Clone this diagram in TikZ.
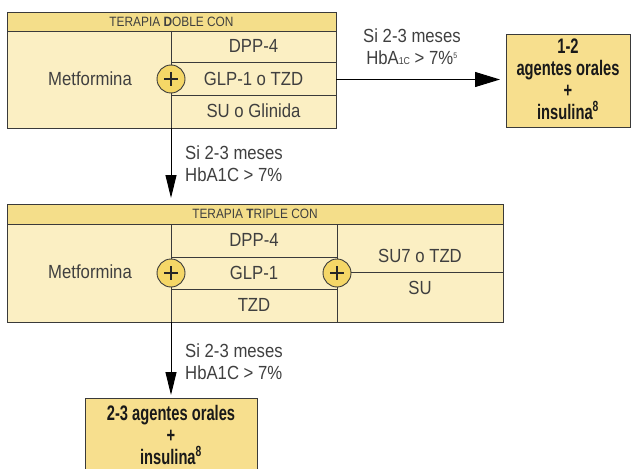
\documentclass[tikz,border=0pt]{standalone}
\usepackage{fontspec}
\setmainfont{Liberation Sans}[FakeStretch=0.88]
\newfontfamily\condbold{Liberation Sans}[FakeStretch=0.7]
\usetikzlibrary{arrows.meta,calc}
\definecolor{hdr}{HTML}{F4DE8A}
\definecolor{bodyc}{HTML}{FBEFC3}
\definecolor{boxy}{HTML}{F7DF8E}
\definecolor{circc}{HTML}{F5D767}
\definecolor{ln}{HTML}{3A3A3A}
\definecolor{txt}{HTML}{3F3F3F}
\begin{document}
\begin{tikzpicture}[x=1pt,y=-1pt,
  hdrbox/.style={draw=ln,fill=hdr,line width=0.9pt,inner sep=0,outer sep=0,anchor=north west},
  bodybox/.style={draw=ln,fill=bodyc,line width=0.9pt,inner sep=0,outer sep=0,anchor=north west},
  resbox/.style={draw=ln,fill=boxy,line width=0.9pt,inner sep=0,outer sep=0,anchor=north west},
  lbl/.style={font=\fontsize{19}{22}\selectfont,text=txt,inner sep=0},
  hdrtxt/.style={font=\fontsize{13.5}{15}\selectfont,text=txt,inner sep=0},
  plus/.style={circle,draw=ln,fill=circc,line width=0.9pt,minimum size=28pt,inner sep=0},
  plusbar/.style={draw=black!85,line width=2pt},
  sep/.style={draw=ln,line width=0.9pt},
  arr/.style={draw=black,line width=1pt,-{Triangle[length=23pt,width=11pt]}},
  harr/.style={draw=black,line width=1pt,-{Triangle[length=25pt,width=15pt]}},
  restxt/.style={font=\condbold\bfseries\fontsize{21}{22}\selectfont,text=black!90,align=center,inner sep=0}
]
\useasboundingbox (0,0) rectangle (631,468);

% ---------- Terapia doble ----------
\node[hdrbox,minimum width=329pt,minimum height=19pt] (h1) at (7,12) {};
\node[bodybox,minimum width=329pt,minimum height=97pt] (b1) at (7,31) {};
\node[hdrtxt] (h1t) at (h1.center) {TERAPIA {\bfseries D}OBLE CON};
\draw[sep] (171,31) -- (171,128);
\draw[sep] (171,62) -- (336,62);
\draw[sep] (171,95) -- (336,95);
\node[lbl] (m1) at (90,79) {Metformina};
\node[lbl] (d1) at (253.5,46) {DPP-4};
\node[lbl] (g1) at (253.5,79) {GLP-1 o TZD};
\node[lbl] (s1) at (253.5,111) {SU o Glinida};
\node[plus] (p1) at (171,79) {};
\draw[plusbar] ($(p1)+(-7,0)$) -- ($(p1)+(7,0)$);
\draw[plusbar] ($(p1)+(0,-7)$) -- ($(p1)+(0,7)$);

% ---------- Resultado 1 ----------
\node[resbox,minimum width=124pt,minimum height=93pt] (r1) at (506,34) {};
\node[restxt] (r1t) at (568,79) {1-2\\agentes orales\\+\\insulina\textsuperscript{8}};

\draw[harr,shorten >=6pt] (b1.east) -- (r1.west |- b1.east);
\node[lbl] (la1) at (412,36) {Si 2-3 meses};
\node[lbl] (lb1) at (412,58) {HbA{\fontsize{10}{10}\selectfont 1C} > 7\%\textsuperscript{\fontsize{8}{8}\selectfont 5}};

% ---------- Terapia triple ----------
\node[hdrbox,minimum width=496pt,minimum height=20pt] (h2) at (7,204) {};
\node[bodybox,minimum width=496pt,minimum height=98pt] (b2) at (7,224) {};
\node[hdrtxt] (h2t) at (h2.center) {TERAPIA {\bfseries T}RIPLE CON};
\draw[sep] (171,224) -- (171,322);
\draw[sep] (337,224) -- (337,322);
\draw[sep] (171,257) -- (337,257);
\draw[sep] (171,289) -- (337,289);
\draw[sep] (337,272) -- (503,272);
\node[lbl] (m2) at (90,272) {Metformina};
\node[lbl] (d2) at (254,240) {DPP-4};
\node[lbl] (g2) at (254,273) {GLP-1};
\node[lbl] (t2) at (254,305) {TZD};
\node[lbl] (su7) at (420,256) {SU7 o TZD};
\node[lbl] (su) at (420,288) {SU};
\node[plus] (p2) at (171,273) {};
\draw[plusbar] ($(p2)+(-7,0)$) -- ($(p2)+(7,0)$);
\draw[plusbar] ($(p2)+(0,-7)$) -- ($(p2)+(0,7)$);
\node[plus] (p3) at (337,273) {};
\draw[plusbar] ($(p3)+(-7,0)$) -- ($(p3)+(7,0)$);
\draw[plusbar] ($(p3)+(0,-7)$) -- ($(p3)+(0,7)$);

\draw[arr,shorten >=6pt] (p1 |- b1.south) -- (p1 |- h2.north);
\node[lbl,anchor=west] (la2) at (185,153) {Si 2-3 meses};
\node[lbl,anchor=west] (lb2) at (185,175) {HbA1C > 7\%};

% ---------- Resultado 2 ----------
\node[resbox,minimum width=172pt,minimum height=80pt] (r2) at (85,398) {};
\node[restxt] (r2t) at (171,435) {2-3 agentes orales\\+\\insulina\textsuperscript{8}};

\draw[arr,shorten >=3pt] (p2 |- b2.south) -- (p2 |- r2.north);
\node[lbl,anchor=west] (la3) at (185,351) {Si 2-3 meses};
\node[lbl,anchor=west] (lb3) at (185,373) {HbA1C > 7\%};
\end{tikzpicture}
\end{document}
